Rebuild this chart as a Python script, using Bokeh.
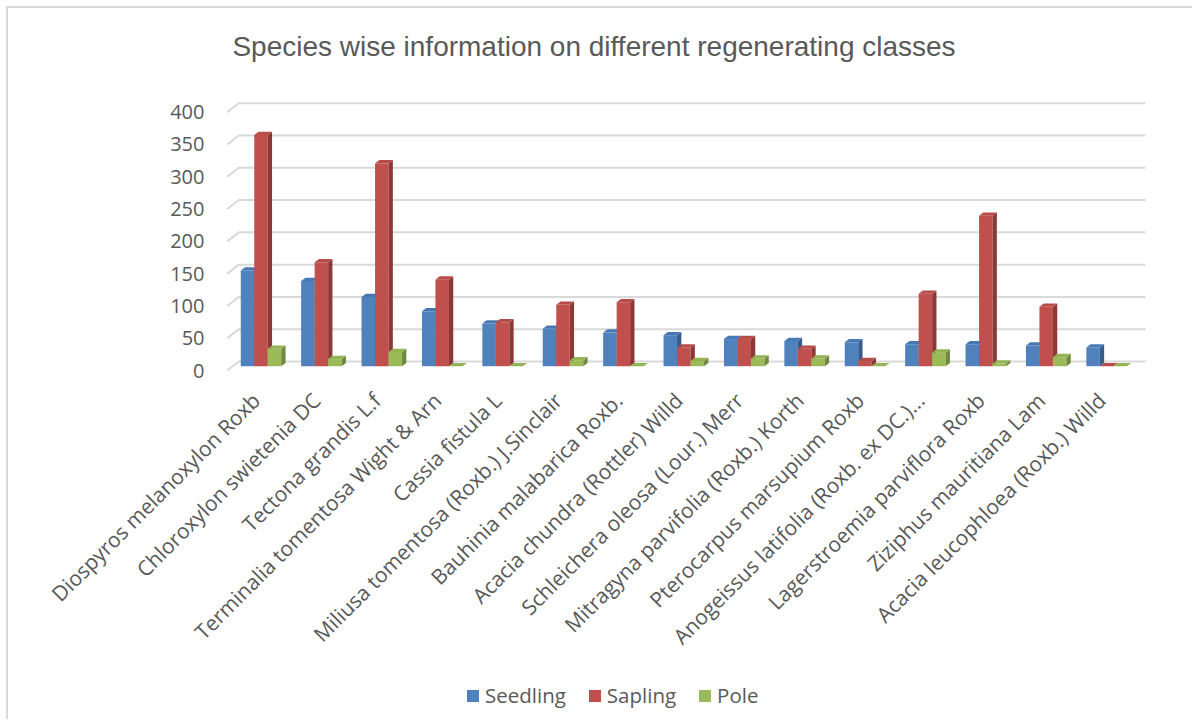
import numpy as np
from bokeh.plotting import figure
from bokeh.models import (Range1d, LinearAxis, FixedTicker, Legend, LegendItem, Label)
from bokeh.embed import file_html
from bokeh.resources import INLINE

# ---------------- data ----------------
species = [
    "Diospyros melanoxylon Roxb",
    "Chloroxylon swietenia DC",
    "Tectona grandis L.f",
    "Terminalia tomentosa Wight & Arn",
    "Cassia fistula L",
    "Miliusa tomentosa (Roxb.) J.Sinclair",
    "Bauhinia malabarica Roxb.",
    "Acacia chundra (Rottler) Willd",
    "Schleichera oleosa (Lour.) Merr",
    "Mitragyna parvifolia (Roxb.) Korth",
    "Pterocarpus marsupium Roxb",
    "Anogeissus latifolia (Roxb. ex DC.)...",
    "Lagerstroemia parviflora Roxb",
    "Ziziphus mauritiana Lam",
    "Acacia leucophloea (Roxb.) Willd",
]
seedling = [148, 132, 107, 85, 66, 58, 52, 48, 42, 39, 37, 34, 34, 32, 29]
sapling = [358, 161, 314, 134, 68, 95, 99, 29, 42, 27, 8, 112, 233, 92, 0]
pole = [27, 11, 22, 0, 0, 9, 0, 8, 12, 12, 0, 21, 4, 14, 0]
series_names = ["Seedling", "Sapling", "Pole"]
y_ticks = [0, 50, 100, 150, 200, 250, 300, 350, 400]
title_text = "Species wise information on different regenerating classes"

# ---------------- styles / geometry ----------------
front_colors = ["#4F81BD", "#C0504D", "#9BBB59"]
top_colors = ["#4778B3", "#B84C49", "#93B354"]
side_colors = ["#385D8A", "#8C3836", "#71893F"]
text_color = "#595959"
grid_color = "#D9D9D9"

W, H = 1184, 711
px_x = 60.4          # px per category
px_y = 0.6458        # px per value unit
x0_px, y0_px = 252.5, 357.7     # canvas px of category 0 / value 0
x_start = -x0_px / px_x
x_end = x_start + W / px_x
y_end = y0_px / px_y
y_start = y_end - H / px_y

def cx(px):   # canvas px -> x data
    return x_start + px / px_x

def cy(py):   # canvas px -> y data
    return y_end - py / px_y

bar_w = 13.5 / px_x
offsets = [-bar_w, 0.0, bar_w]
dx = 4.3 / px_x
dy = 3.3 / px_y

p = figure(width=W, height=H, output_backend="svg", toolbar_location=None,
           x_range=Range1d(x_start, x_end), y_range=Range1d(y_start, y_end),
           x_axis_location=None, y_axis_location=None,
           min_border_left=0, min_border_right=0,
           min_border_top=0, min_border_bottom=0)
p.styles = {"margin-left": "8px", "margin-top": "8px",
            "box-shadow": "-1px -1px 0px 1px #D9D9D9"}
p.grid.visible = False
p.outline_line_color = None
p.background_fill_color = "white"
p.border_fill_color = "white"

# gridlines with 3D floor slant
g_front_dy = -4.3 / px_y
g_back_dy = 4.7 / px_y
gx0, gx1, gx2 = cx(218.7), cx(230.3), cx(1137)
p.multi_line(xs=[[gx0, gx1, gx2] for t in y_ticks],
             ys=[[t + g_front_dy, t + g_back_dy, t + g_back_dy] for t in y_ticks],
             line_color=grid_color, line_width=2)

# bars (front face + side + top)
idx = np.arange(len(species))
legend_items = []
for k, vals in enumerate([seedling, sapling, pole]):
    xc = idx + offsets[k]
    xl = xc - bar_w / 2
    xr = xc + bar_w / 2
    v = np.array(vals, dtype=float)
    r = p.vbar(x=xc, width=bar_w, top=v, bottom=0, fill_color=front_colors[k],
               line_color=None)
    side_xs = [[a, a + dx, a + dx, a] for a in xr]
    side_ys = [[0, dy, h + dy, h] for h in v]
    p.patches(side_xs, side_ys, fill_color=side_colors[k], line_color=None)
    top_xs = [[a, b, b + dx, a + dx] for a, b in zip(xl, xr)]
    top_ys = [[h, h, h + dy, h + dy] for h in v]
    p.patches(top_xs, top_ys, fill_color=top_colors[k], line_color=None)
    legend_items.append(LegendItem(label=series_names[k], renderers=[r]))

# y axis, labels level with the front edge of the floor slant
p.extra_y_ranges = {"ylab": Range1d(y_start - g_front_dy, y_end - g_front_dy)}
yax = LinearAxis(y_range_name="ylab", ticker=FixedTicker(ticks=y_ticks),
                 fixed_location=cx(218))
yax.axis_line_color = None
yax.major_tick_line_color = None
yax.minor_tick_line_color = None
yax.major_tick_out = 0
yax.major_tick_in = 0
yax.major_label_standoff = 22
yax.major_label_text_font = "Open Sans"
yax.major_label_text_font_size = "20px"
yax.major_label_text_color = text_color
p.add_layout(yax, "left")

# x axis with rotated category labels
shift = 5 / px_x
p.extra_x_ranges = {"xlab": Range1d(x_start + shift, x_end + shift)}
xax = LinearAxis(x_range_name="xlab",
                 ticker=FixedTicker(ticks=list(range(len(species)))),
                 fixed_location=cy(364))
xax.major_label_overrides = {i: s for i, s in enumerate(species)}
xax.major_label_orientation = np.pi / 4
xax.axis_line_color = None
xax.major_tick_line_color = None
xax.minor_tick_line_color = None
xax.major_tick_out = 0
xax.major_tick_in = 0
xax.major_label_standoff = 24
xax.major_label_text_font = "Open Sans"
xax.major_label_text_font_size = "21px"
xax.major_label_text_color = text_color
p.add_layout(xax, "below")

# title
p.add_layout(Label(x=cx(585.5), y=cy(38), text=title_text,
                   text_align="center", text_baseline="middle",
                   text_font="Liberation Sans", text_font_size="28px",
                   text_color=text_color))

# legend
legend = Legend(items=legend_items, orientation="horizontal",
                location=(457, 10))
legend.padding = 0
legend.margin = 0
legend.border_line_color = None
legend.background_fill_alpha = 0
legend.glyph_width = 15
legend.glyph_height = 15
legend.label_standoff = 5
legend.spacing = 21
legend.label_text_font = "Open Sans"
legend.label_text_font_size = "20.5px"
legend.label_text_color = text_color
p.add_layout(legend)

open("out.html", "w").write(file_html(p, INLINE))
